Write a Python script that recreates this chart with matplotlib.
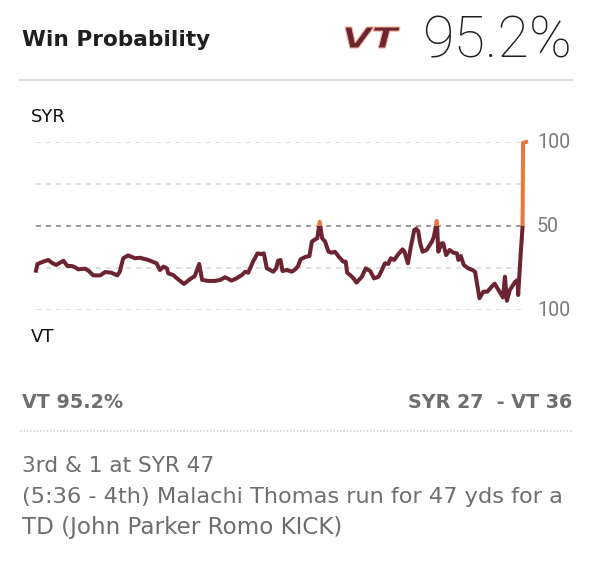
import numpy as np
import matplotlib
matplotlib.use('Agg')
import matplotlib.pyplot as plt
from matplotlib.patches import Rectangle, PathPatch
from matplotlib.textpath import TextPath
from matplotlib.font_manager import FontProperties
from matplotlib.transforms import Affine2D
from matplotlib.lines import Line2D

# ---- data: game progress (%) and SYR win probability (%) ----
progress = [0.0, 0.3, 1.5, 2.5, 3.2, 4.1, 5.6, 6.4, 7.3, 8.0, 8.6, 10.0, 10.7, 11.7,
            13.1, 14.1, 15.4, 16.6, 17.1, 17.8, 18.8, 20.2, 21.2, 22.9, 24.6, 25.3,
            26.0, 26.7, 27.0, 28.0, 29.0, 30.2, 31.4, 32.4, 33.3, 33.9, 35.2, 36.5,
            37.6, 38.6, 39.9, 40.9, 42.0, 42.7, 43.3, 44.3, 45.2, 45.9, 46.5, 47.1,
            47.8, 48.4, 49.0, 49.4, 49.9, 50.3, 51.2, 52.2, 52.9, 53.5, 54.0, 55.1,
            55.8, 56.3, 56.8, 57.4, 57.9, 58.4, 59.0, 59.7, 60.3, 61.0, 61.8, 62.7,
            63.2, 63.5, 64.1, 64.8, 65.4, 66.5, 67.3, 68.2, 69.0, 69.9, 70.6, 71.2,
            71.9, 72.4, 73.1, 73.8, 74.8, 75.2, 75.9, 76.5, 77.2, 77.6, 78.0, 78.4,
            78.9, 79.7, 80.8, 81.2, 81.8, 81.9, 82.1, 82.8, 83.1, 83.7, 84.4, 85.2,
            85.9, 86.2, 86.7, 87.3, 88.2, 89.1, 89.6, 90.5, 91.3, 92.1, 93.0, 93.6,
            94.6, 95.3, 95.7, 96.1, 96.7, 97.8, 98.3, 98.4, 98.9, 99.3, 99.4, 100.0]
syr_prob = [23.4, 27.4, 28.8, 29.8, 28.2, 26.8, 29.3, 26.2, 26.2, 25.4, 24.2, 24.6, 23.4, 20.6,
            20.6, 22.6, 22.2, 20.6, 22.8, 30.8, 32.5, 30.8, 31.1, 29.8, 27.8, 23.8,
            25.8, 24.8, 21.8, 20.8, 18.3, 15.5, 18.3, 20.2, 27.4, 17.9, 17.3, 17.3,
            17.9, 19.5, 17.5, 18.8, 20.8, 22.8, 22.2, 28.8, 33.7, 33.3, 33.7, 24.8,
            23.8, 22.8, 24.8, 29.3, 29.8, 23.2, 23.8, 22.8, 24.2, 26.2, 30.2, 31.7,
            32.1, 40.7, 41.7, 42.7, 52.5, 42.7, 40.7, 34.7, 34.1, 34.7, 31.7, 28.8,
            28.8, 22.2, 20.8, 18.8, 16.3, 19.8, 24.8, 23.2, 18.8, 19.8, 23.8, 27.8,
            27.4, 30.8, 29.8, 32.7, 36.1, 34.7, 27.8, 37.7, 47.6, 48.3, 47.0, 39.7,
            34.7, 35.7, 40.7, 43.6, 53.0, 47.6, 34.7, 39.7, 39.7, 32.7, 35.7, 34.1,
            33.7, 29.8, 32.1, 26.8, 24.8, 23.8, 22.8, 7.0, 10.9, 10.9, 13.9, 15.7,
            10.9, 7.5, 19.8, 5.5, 11.9, 16.8, 17.9, 8.9, 32.7, 49.6, 99.5, 100.0]

grid_levels = [0, 25, 50, 75, 100]
tick_levels = [100, 50, 0]
tick_text = ['100', '50', '100']

win_pct = 95.2
syr_score, vt_score = 27, 36
situation = '3rd & 1 at SYR 47'
play_text = ['(5:36 - 4th) Malachi Thomas run for 47 yds for a',
             'TD (John Parker Romo KICK)']

MAROON = '#6b2430'
ORANGE = '#e8793a'
GRAY = '#6e6e6e'

W, H = 590, 578
fig = plt.figure(figsize=(W / 100, H / 100), dpi=100)
fig.patch.set_facecolor('white')
renderer = fig.canvas.get_renderer()


def fx(x):
    return x / W


def fy(y):
    return 1 - y / H


FONT = ['DejaVu Sans']
THIN = ['Roboto', 'DejaVu Sans']


def fit_text(x, y, s, width, size, ha='left', **kw):
    # place text, then rescale its font so the drawn width matches the reference
    t = fig.text(fx(x), fy(y), s, fontsize=size, ha=ha, va='baseline', **kw)
    w = t.get_window_extent(renderer).width
    t.set_fontsize(size * width / w)
    return t


# ---- header ----
fit_text(22, 46, 'Win Probability', 188, 15, fontweight='bold',
         color='#1f1f1f', family=FONT)
fit_text(572, 58, f'{win_pct}%', 150, 36, ha='right', fontweight='light',
         color='#1f1f1f', family=THIN)

# VT logo as stretched text path
logo_ax = fig.add_axes([0, 0, 1, 1], zorder=-1)
logo_ax.set_xlim(0, W); logo_ax.set_ylim(H, 0); logo_ax.axis('off')
tp = TextPath((0, 0), 'VT', size=10,
              prop=FontProperties(family='DejaVu Sans', weight='bold', style='italic'))
bb = tp.get_extents()
sx = (400 - 345) / bb.width
sy = (48 - 27) / bb.height
tr = Affine2D().translate(-bb.x0, -bb.y0).scale(sx, -sy).translate(345, 48)
logo_ax.add_patch(PathPatch(tr.transform_path(tp), facecolor=MAROON,
                            edgecolor='#f0b49a', lw=0.8))

# header divider
fig.add_artist(Line2D([fx(20), fx(572)], [fy(80), fy(80)], color='#dddddd', lw=1.6))

# ---- chart ----
ax = fig.add_axes([fx(36), fy(310), fx(526) - fx(36), fy(142) - fy(310)])
ax.set_xlim(0, 100)
ax.set_ylim(0, 100)
ax.axis('off')

for lv in grid_levels:
    ax.axhline(lv, color='#8a8a8a' if lv == 50 else '#d9d9d9',
               lw=1.2, linestyle=(0, (3, 3)), zorder=1)

lo = ax.plot(progress, syr_prob, color=MAROON, lw=2.9, zorder=3)[0]
hi = ax.plot(progress, syr_prob, color=ORANGE, lw=2.9, zorder=3)[0]
lo.set_clip_path(Rectangle((-10, -30), 120, 80, transform=ax.transData))
hi.set_clip_path(Rectangle((-10, 50), 120, 80, transform=ax.transData))

for lv, t in zip(tick_levels, tick_text):
    y_px = 310 - lv * 1.68
    lab = fit_text(537, y_px, t, 33 if len(t) == 3 else 22, 13, color='#7a7a7a',
                   family=THIN)
    lab.set_va('center')

fig.text(fx(31), fy(122), 'SYR', fontsize=13, color='#111111', family=FONT,
         va='baseline')
fig.text(fx(31), fy(342), 'VT', fontsize=13, color='#111111', family=FONT,
         va='baseline')

# ---- footer ----
fig.text(fx(22), fy(408), f'VT {win_pct}%', fontsize=13.8, fontweight='bold',
         color=GRAY, family=FONT, va='baseline')
fig.text(fx(572), fy(408), f'SYR {syr_score}  - VT {vt_score}', fontsize=13.8,
         fontweight='bold', color=GRAY, family=FONT, va='baseline', ha='right')
fig.add_artist(Line2D([fx(20), fx(572)], [fy(431), fy(431)], color='#d6d6d6', lw=1.2,
                      linestyle=(0, (1, 1))))

widths = [193, 543, 321]
for i, line in enumerate([situation] + play_text):
    fit_text(22, 472 + 31 * i, line, widths[i], 14, color=GRAY, family=FONT)

fig.savefig('out.png', dpi=100, facecolor='white')
